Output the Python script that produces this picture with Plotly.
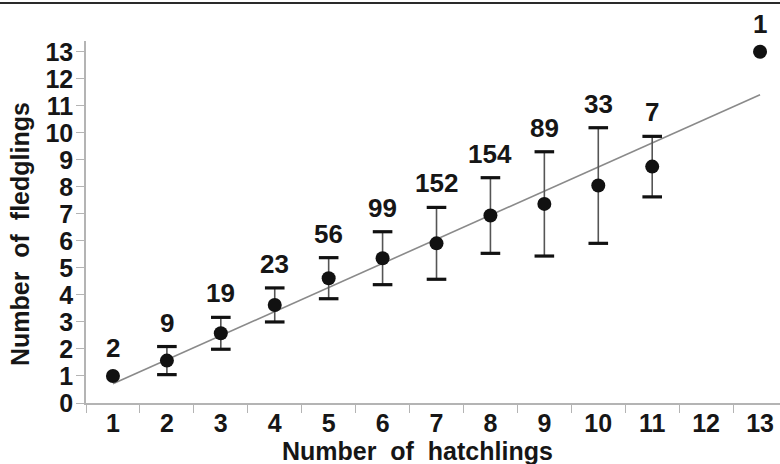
import plotly.graph_objects as go

# Data
hatchlings = [1, 2, 3, 4, 5, 6, 7, 8, 9, 10, 11, 13]
fledglings_mean = [1.0, 1.57, 2.58, 3.63, 4.62, 5.36, 5.91, 6.94, 7.37, 8.05, 8.75, 13.0]
fledglings_sd = [0.0, 0.52, 0.59, 0.63, 0.76, 0.98, 1.33, 1.40, 1.93, 2.14, 1.12, 0.0]
sample_n = [2, 9, 19, 23, 56, 99, 152, 154, 89, 33, 7, 1]

fit_x = [1, 13]
fit_y = [0.71, 11.41]

x_tick_vals = [1, 2, 3, 4, 5, 6, 7, 8, 9, 10, 11, 12, 13]
x_tick_text = [str(v) for v in x_tick_vals]
y_tick_vals = list(range(0, 14))

FONT = "Liberation Sans, Arial, Helvetica, sans-serif"
INK = "#161616"
AXIS = "#b4b4b4"

fig = go.Figure()

# regression line
fig.add_trace(go.Scatter(
    x=fit_x, y=fit_y, mode="lines",
    line=dict(color="#8a8a8a", width=1.6),
    hoverinfo="skip", showlegend=False,
))

# error bar stems
has_err = [s > 0 for s in fledglings_sd]
ex = [x for x, h in zip(hatchlings, has_err) if h]
em = [m for m, h in zip(fledglings_mean, has_err) if h]
es = [s for s, h in zip(fledglings_sd, has_err) if h]
fig.add_trace(go.Scatter(
    x=ex, y=em, mode="none",
    error_y=dict(type="data", array=es, visible=True, color="#555555",
                 thickness=1.6, width=0),
    showlegend=False, hoverinfo="skip",
))

# caps
cap_x = ex + ex
cap_y = [m + s for m, s in zip(em, es)] + [m - s for m, s in zip(em, es)]
fig.add_trace(go.Scatter(
    x=cap_x, y=cap_y, mode="markers",
    marker=dict(symbol="line-ew", size=14, line=dict(color="#111111", width=3.2)),
    showlegend=False, hoverinfo="skip",
))

# means
fig.add_trace(go.Scatter(
    x=hatchlings, y=fledglings_mean, mode="markers",
    marker=dict(symbol="circle", size=14, color="#111111"),
    showlegend=False,
))

annotations = []
for x, m, s, n in zip(hatchlings, fledglings_mean, fledglings_sd, sample_n):
    annotations.append(dict(
        x=x, y=m + s, xref="x", yref="y", text=f"<b>{n}</b>",
        showarrow=False, yanchor="middle", xanchor="center",
        yshift=24 if s > 0 else 28,
        font=dict(family=FONT, size=26, color=INK),
    ))

# axis titles
annotations.append(dict(
    x=(417.5 - 86) / 694, y=(403 - 451) / 362, xref="paper", yref="paper",
    text="<b>Number\u00a0 of\u00a0 hatchlings</b>", showarrow=False,
    xanchor="center", yanchor="middle",
    font=dict(family=FONT, size=25, color=INK),
))
annotations.append(dict(
    x=(20 - 86) / 694, y=(403 - 234) / 362, xref="paper", yref="paper",
    text="<b>Number\u00a0 of\u00a0 fledglings</b>", showarrow=False, textangle=-90,
    xanchor="center", yanchor="middle",
    font=dict(family=FONT, size=25, color=INK),
))

fig.update_layout(
    width=780, height=464,
    margin=dict(l=86, r=0, t=41, b=61),
    paper_bgcolor="white", plot_bgcolor="white",
    showlegend=False,
    annotations=annotations,
    shapes=[dict(type="line", xref="paper", yref="paper",
                 x0=-0.2, x1=1.2, y0=1 + 38 / 362, y1=1 + 38 / 362,
                 line=dict(color="#2a2a2a", width=2))],
    xaxis=dict(
        range=[0.5, 13.37], showgrid=False, zeroline=False,
        showline=True, linecolor=AXIS, linewidth=1.5,
        tickmode="array", tickvals=x_tick_vals, ticktext=[f"<b>{t}</b>" for t in x_tick_text],
        ticks="outside", ticklen=0, tickcolor="rgba(0,0,0,0)",
        ticklabelstandoff=-3,
        tickfont=dict(family=FONT, size=25, color=INK),
        minor=dict(tickmode="linear", tick0=0.5, dtick=1, ticks="outside",
                   ticklen=8, tickcolor=AXIS, tickwidth=1, showgrid=False),
    ),
    yaxis=dict(
        range=[0, 13.4], showgrid=False, zeroline=False,
        showline=True, linecolor=AXIS, linewidth=1.5,
        tickmode="array", tickvals=y_tick_vals,
        ticktext=[f"<b>{v}</b>" for v in y_tick_vals],
        ticks="outside", ticklen=8, tickcolor=AXIS, tickwidth=1,
        ticklabelstandoff=-2,
        tickfont=dict(family=FONT, size=25, color=INK),
    ),
)

fig.write_html("out.html", config={"displayModeBar": False},
               post_script="document.body.style.margin='0';")
